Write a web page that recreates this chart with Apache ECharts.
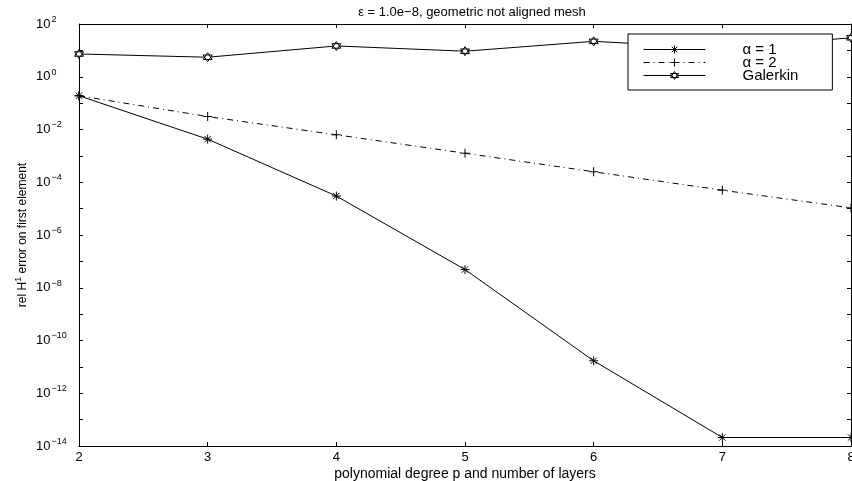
<!DOCTYPE html>
<html>
<head>
<meta charset="utf-8">
<script src="https://cdn.jsdelivr.net/npm/echarts@6/dist/echarts.min.js"></script>
<style>html,body{margin:0;padding:0;background:#fff;}#c{width:852px;height:481px;}</style>
</head>
<body>
<div id="c"></div>
<script>
const xValues = [2, 3, 4, 5, 6, 7, 8];
const alpha1 = [0.19, 4.3e-3, 3.0e-5, 4.9e-8, 1.7e-11, 2.1e-14, 2.1e-14];
const alpha2 = [0.19, 3.1e-2, 6.3e-3, 1.26e-3, 2.5e-4, 5.0e-5, 1.07e-5];
const galerkin = [7.3, 5.5, 14.7, 9.3, 22, 12, 30];
const seriesNames = ['\u03b1 = 1', '\u03b1 = 2', 'Galerkin'];
const titleText = '\u03b5 = 1.0e\u22128, geometric not aligned mesh';
const xTitle = 'polynomial degree p and number of layers';

const FONT = '"Liberation Sans", Arial, sans-serif';
const pair = arr => xValues.map((x, i) => [x, arr[i]]);

const starPath = 'path://M0,5L10,5M5,0L5,10M1.5,1.5L8.5,8.5M8.5,1.5L1.5,8.5';
const plusPath = 'path://M0,5L10,5M5,0L5,10';
const hexPath = 'path://M5,0L9.33,7.5L0.67,7.5ZM5,10L0.67,2.5L9.33,2.5Z';

function yFmt(v) {
  const e = Math.round(Math.log10(v));
  if (e % 2 !== 0) return '';
  const es = e < 0 ? '\u2212' + (-e) : String(e);
  return '{b|10}{e|' + es + '}';
}

const axisCommon = {
  axisLine: { show: true, onZero: false, lineStyle: { color: '#000', width: 1 } },
  axisTick: { show: true, inside: true, length: 4, lineStyle: { color: '#000' } },
  splitLine: { show: false }
};

const chart = echarts.init(document.getElementById('c'), null, { renderer: 'canvas' });
chart.setOption({
  animation: false,
  backgroundColor: '#fff',
  title: {
    text: titleText,
    left: 467, top: 1, textAlign: 'center',
    textStyle: { fontFamily: FONT, fontSize: 13, fontWeight: 'normal', color: '#000' }
  },
  grid: { left: 79, right: 1, top: 24, bottom: 35, outerBoundsMode: 'none', containLabel: false },
  legend: {
    left: 628, top: 34,
    orient: 'vertical',
    backgroundColor: '#fff',
    borderColor: '#000', borderWidth: 1, borderRadius: 0,
    padding: [8, 34, 7, 15],
    itemGap: -2,
    itemWidth: 62, itemHeight: 10,
    lineStyle: { width: 1 },
    itemStyle: { borderWidth: 1 },
    textStyle: { fontFamily: FONT, fontSize: 15, color: '#000', lineHeight: 12, padding: [0, 0, 0, 32] },
    data: seriesNames
  },
  xAxis: [{
    type: 'value', min: 2, max: 8, interval: 1,
    name: xTitle, nameLocation: 'middle', nameGap: 21, nameMoveOverlap: false,
    nameTextStyle: { fontFamily: FONT, fontSize: 14, color: '#000' },
    axisLabel: { fontFamily: FONT, fontSize: 13, color: '#000', margin: 5 },
    ...axisCommon
  }, {
    type: 'value', min: 2, max: 8, interval: 1, position: 'top',
    axisLabel: { show: false },
    ...axisCommon
  }],
  yAxis: [{
    type: 'log', logBase: 10, min: 1e-14, max: 100, interval: 1,
    name: 'rel H{s|1} error on first element',
    nameLocation: 'middle', nameGap: 48, nameRotate: 90, nameMoveOverlap: false,
    nameTextStyle: {
      fontFamily: '"Liberation Sans Narrow", "Liberation Sans", sans-serif', fontSize: 12, color: '#000',
      rich: { s: { fontFamily: '"Liberation Sans Narrow", "Liberation Sans", sans-serif', fontSize: 9, padding: [0, 0, 8, 0], color: '#000' } }
    },
    axisLabel: {
      formatter: yFmt, align: 'left', margin: 43, color: '#000',
      rich: {
        b: { fontFamily: FONT, fontSize: 13, color: '#000' },
        e: { fontFamily: FONT, fontSize: 9, color: '#000', padding: [0, 0, 9, 1] }
      }
    },
    ...axisCommon
  }, {
    type: 'log', logBase: 10, min: 1e-14, max: 100, interval: 1, position: 'right',
    axisLabel: { show: false },
    ...axisCommon
  }],
  series: [{
    name: seriesNames[0], type: 'line', data: pair(alpha1),
    symbol: starPath, symbolSize: 9,
    lineStyle: { color: '#000', width: 1 },
    itemStyle: { color: 'none', borderColor: '#000', borderWidth: 1 }
  }, {
    name: seriesNames[1], type: 'line', data: pair(alpha2),
    symbol: plusPath, symbolSize: 9,
    lineStyle: { color: '#000', width: 1, type: [6, 4, 1, 4] },
    itemStyle: { color: 'none', borderColor: '#000', borderWidth: 1 }
  }, {
    name: seriesNames[2], type: 'line', data: pair(galerkin),
    symbol: hexPath, symbolSize: 9,
    lineStyle: { color: '#000', width: 1 },
    itemStyle: { color: '#fff', borderColor: '#000', borderWidth: 1 }
  }]
});
</script>
</body>
</html>
